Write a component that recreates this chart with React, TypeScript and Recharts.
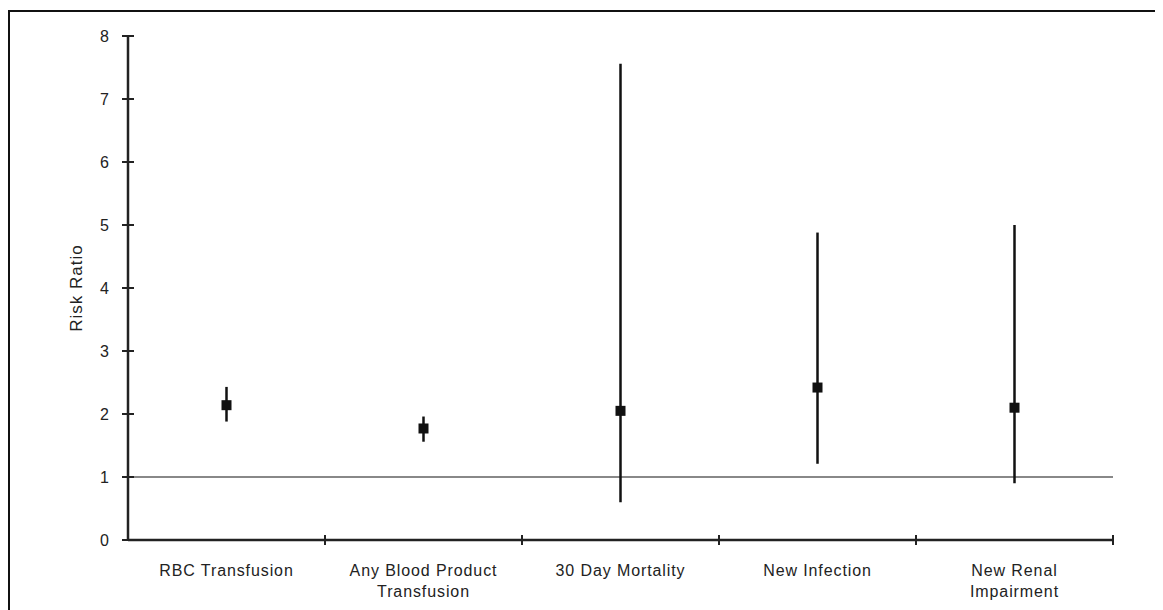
import { ComposedChart, Line, ErrorBar, XAxis, YAxis, ReferenceLine, Label } from 'recharts';

const categories = ['RBC Transfusion', 'Any Blood Product Transfusion', '30 Day Mortality', 'New Infection', 'New Renal Impairment'];
const tickLabelLines = [['RBC Transfusion'], ['Any Blood Product', 'Transfusion'], ['30 Day Mortality'], ['New Infection'], ['New Renal', 'Impairment']];
const riskRatio = [2.14, 1.77, 2.05, 2.42, 2.1];
const ciLow = [1.88, 1.56, 0.6, 1.21, 0.9];
const ciHigh = [2.43, 1.96, 7.56, 4.88, 5.0];
const yTicks = [0, 1, 2, 3, 4, 5, 6, 7, 8];

const data = categories.map((name, i) => ({
  name,
  rr: riskRatio[i],
  err: [riskRatio[i] - ciLow[i], ciHigh[i] - riskRatio[i]],
}));

const W = 1150;
const H = 596;
const margin = { top: 24, right: 47, left: 58, bottom: 8 };
const Y_AXIS_W = 60;
const X_AXIS_H = 60;
const bandW = (W - margin.left - margin.right - Y_AXIS_W) / categories.length;
const font = '"Liberation Sans", Arial, sans-serif';
const ink = '#222';

function XTick(props: any) {
  const { x, y, index } = props;
  const lines = tickLabelLines[index] || [];
  return (
    <g>
      <line x1={x + bandW / 2} x2={x + bandW / 2} y1={y - 5} y2={y + 5} stroke={ink} strokeWidth={2} />
      {lines.map((t, k) => (
        <text key={k} x={x} y={y + 36 + k * 21} textAnchor="middle" fontSize={16} fill={ink} fontFamily={font} letterSpacing={0.9}>
          {t}
        </text>
      ))}
    </g>
  );
}

function YTick(props: any) {
  const { x, y, payload } = props;
  return (
    <g>
      <line x1={x - 6} x2={x + 6} y1={y} y2={y} stroke={ink} strokeWidth={2} />
      <text x={x - 19} y={y + 6} textAnchor="end" fontSize={16} fill={ink} fontFamily={font}>
        {payload.value}
      </text>
    </g>
  );
}

function SquareDot(props: any) {
  const { cx, cy } = props;
  if (cx == null || cy == null) return null;
  return <rect x={cx - 5} y={cy - 5} width={10} height={10} fill="#111" />;
}

export default function App() {
  return (
    <div style={{ marginTop: 2, borderTop: '2px solid #111', borderLeft: '2px solid #111', width: W, height: 598 }}>
      <ComposedChart width={W} height={H} data={data} margin={margin}>
        <XAxis
          dataKey="name"
          type="category"
          scale="band"
          height={X_AXIS_H}
          interval={0}
          tickSize={0}
          tickMargin={0}
          tickLine={false}
          axisLine={{ stroke: ink, strokeWidth: 2.5 }}
          tick={<XTick />}
        />
        <YAxis
          type="number"
          domain={[0, 8]}
          ticks={yTicks}
          width={Y_AXIS_W}
          tickSize={0}
          tickMargin={0}
          tickLine={false}
          axisLine={{ stroke: ink, strokeWidth: 2.5 }}
          tick={<YTick />}
        >
          <Label
            value="Risk Ratio"
            angle={-90}
            position="insideLeft"
            offset={8}
            fill={ink}
            style={{ textAnchor: 'middle', fontSize: 17, fontFamily: font, letterSpacing: 1 }}
          />
        </YAxis>
        <ReferenceLine y={1} stroke="#888" strokeWidth={2} />
        <Line dataKey="rr" stroke="none" dot={<SquareDot />} activeDot={false} isAnimationActive={false}>
          <ErrorBar dataKey="err" direction="y" width={0} stroke="#111" strokeWidth={2.5} />
        </Line>
      </ComposedChart>
    </div>
  );
}
